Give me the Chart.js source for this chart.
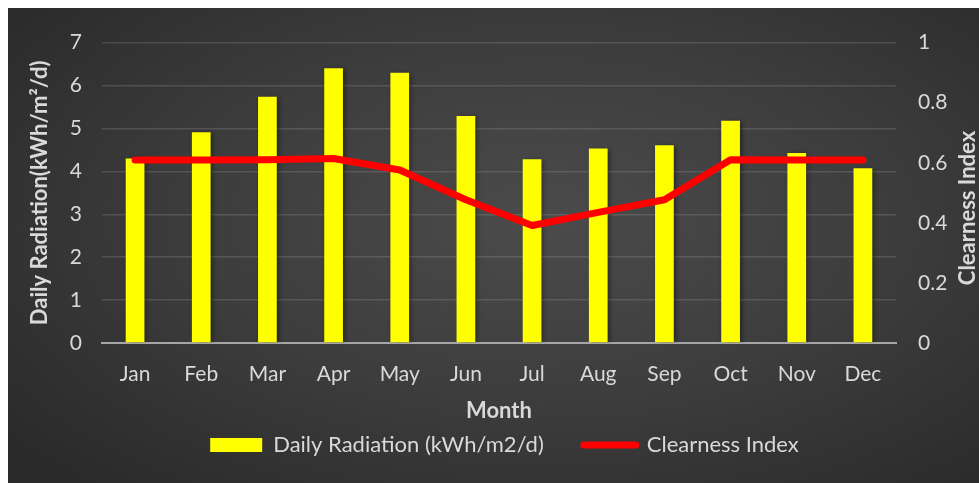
<!DOCTYPE html>
<html>
<head>
<meta charset="utf-8">
<script src="https://cdn.jsdelivr.net/npm/chart.js@4.4.1/dist/chart.umd.min.js"></script>
<style>
  html, body { margin: 0; padding: 0; background: #fff; }
  .frame {
    position: absolute; left: 8px; top: 8px; width: 971px; height: 475px;
    background: radial-gradient(ellipse 70% 75% at 55% 45%, #4b4b4b 0%, #3d3d3d 50%, #2a2a2a 100%);
  }
  canvas { display: block; }
</style>
</head>
<body>
<div class="frame"><canvas id="solarChart" width="971" height="475"></canvas></div>
<script>
// --- data ---
const months = ['Jan', 'Feb', 'Mar', 'Apr', 'May', 'Jun', 'Jul', 'Aug', 'Sep', 'Oct', 'Nov', 'Dec'];
const dailyRadiation = [4.30, 4.91, 5.74, 6.40, 6.30, 5.29, 4.28, 4.53, 4.61, 5.18, 4.43, 4.07];
const clearnessIndex = [0.609, 0.609, 0.610, 0.614, 0.576, 0.477, 0.391, 0.435, 0.477, 0.610, 0.609, 0.609];

const textColor = '#d9d9d9';
const fontFamily = 'Lato, "Open Sans", sans-serif';

// soft shadow behind the bars
const barShadow = {
    id: 'barShadow',
    beforeDatasetDraw(chart, args) {
        if (args.index !== 1) return;
        const ctx = chart.ctx;
        ctx.save();
        ctx.shadowColor = 'rgba(0,0,0,0.45)';
        ctx.shadowBlur = 5;
        ctx.shadowOffsetX = 2;
        ctx.shadowOffsetY = 1;
    },
    afterDatasetDraw(chart, args) {
        if (args.index !== 1) return;
        chart.ctx.restore();
    }
};

// legend sits closer to the axis title than chart.js would put it
const legendLift = {
    id: 'legendLift',
    afterLayout(chart) {
        const l = chart.legend;
        const dy = l.top + 40 + 11 - 437;
        l.top -= dy;
        l.bottom -= dy;
        l.left += 11;
        l.right += 11;
    }
};

// right axis title reads bottom to top, like the left one
const rightTitle = {
    id: 'rightTitle',
    afterDraw(chart) {
        const ctx = chart.ctx;
        ctx.save();
        ctx.translate(960, 200);
        ctx.rotate(-Math.PI / 2);
        ctx.fillStyle = textColor;
        ctx.font = 'bold 22px ' + fontFamily;
        ctx.textAlign = 'center';
        ctx.textBaseline = 'middle';
        ctx.fillText('Clearness Index', 0, 0);
        ctx.restore();
    }
};

new Chart(document.getElementById('solarChart'), {
    data: {
        labels: months,
        datasets: [
            {
                type: 'line',
                label: 'Clearness Index',
                data: clearnessIndex,
                yAxisID: 'y1',
                borderColor: '#ff0000',
                borderWidth: 7,
                borderJoinStyle: 'round',
                borderCapStyle: 'round',
                tension: 0,
                pointRadius: 0,
                pointStyle: 'line',
                order: 0
            },
            {
                type: 'bar',
                label: 'Daily Radiation (kWh/m2/d)',
                data: dailyRadiation,
                yAxisID: 'y',
                backgroundColor: '#ffff00',
                borderWidth: 0,
                categoryPercentage: 1,
                barPercentage: 0.283,
                order: 1
            }
        ]
    },
    options: {
        responsive: false,
        animation: false,
        layout: { padding: { top: 29, left: 0, right: 0, bottom: -17 } },
        plugins: {
            tooltip: { enabled: false },
            legend: {
                position: 'bottom',
                reverse: true,
                labels: {
                    color: textColor,
                    font: { family: fontFamily, size: 22 },
                    usePointStyle: true,
                    pointStyleWidth: 52,
                    boxHeight: 14,
                    padding: 40,
                    generateLabels(chart) {
                        const items = Chart.defaults.plugins.legend.labels.generateLabels(chart);
                        items.forEach(item => {
                            if (item.datasetIndex === 0) {
                                item.pointStyle = 'line';
                                item.strokeStyle = '#ff0000';
                                item.lineWidth = 7;
                                item.lineCap = 'round';
                            } else {
                                item.pointStyle = 'rect';
                                item.fillStyle = '#ffff00';
                                item.lineWidth = 0;
                            }
                        });
                        return items;
                    }
                }
            }
        },
        scales: {
            x: {
                grid: { display: false, drawTicks: false },
                border: { display: true, color: '#a6a6a6', width: 2 },
                ticks: { color: textColor, font: { family: fontFamily, size: 21 }, padding: 19 },
                title: {
                    display: true, text: 'Month', color: textColor,
                    font: { family: fontFamily, size: 22, weight: 'bold' }, padding: { top: 6 }
                },
                afterFit(scale) { scale.height = 85; }
            },
            y: {
                position: 'left',
                min: 0, max: 7,
                ticks: { stepSize: 1, color: textColor, font: { family: fontFamily, size: 21 }, padding: 20 },
                grid: { color: 'rgba(255,255,255,0.13)', lineWidth: 1.5, drawTicks: false },
                border: { display: false },
                title: {
                    display: true, text: 'Daily Radiation(kWh/m²/d)', color: textColor,
                    font: { family: fontFamily, size: 22, weight: 'bold' }, padding: { top: 19 }
                },
                afterFit(scale) { scale.width = 94; }
            },
            y1: {
                position: 'right',
                min: 0, max: 1,
                ticks: {
                    stepSize: 0.2, color: textColor, font: { family: fontFamily, size: 21 }, padding: 22,
                    callback: v => String(Math.round(v * 10) / 10)
                },
                grid: { display: false, drawTicks: false },
                border: { display: false },
                afterFit(scale) { scale.width = 83; }
            }
        }
    },
    plugins: [barShadow, legendLift, rightTitle]
});
</script>
</body>
</html>
